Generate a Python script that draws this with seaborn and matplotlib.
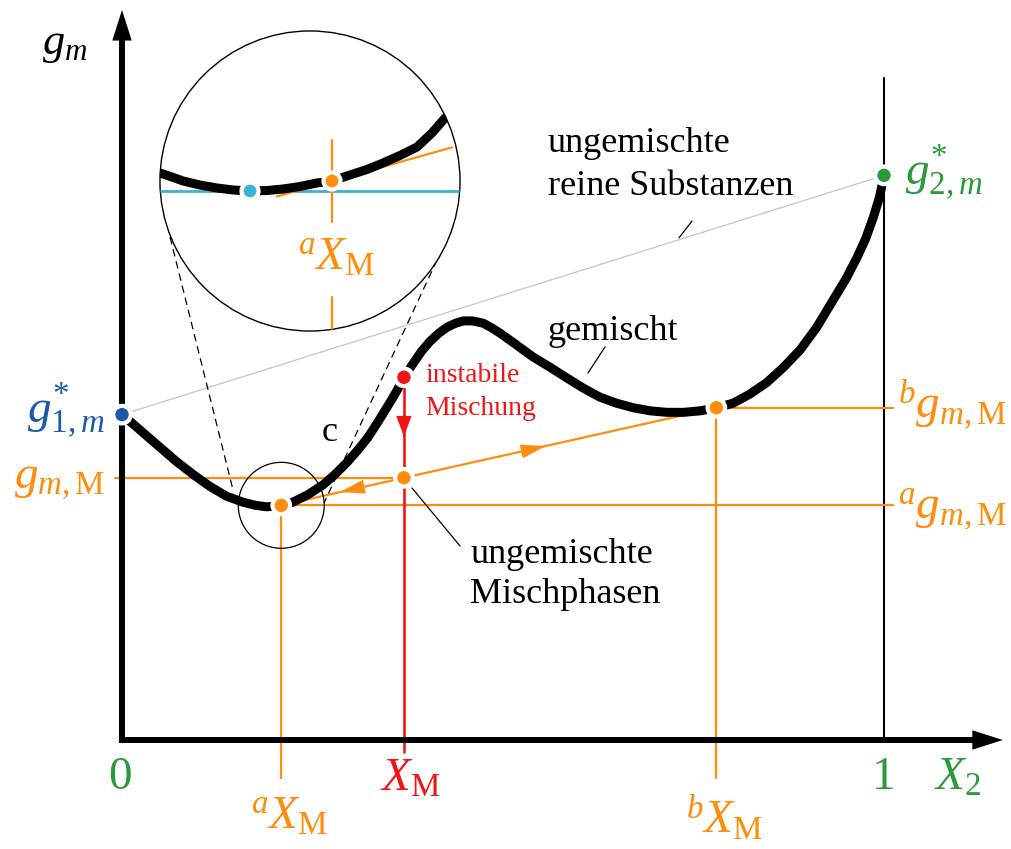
import matplotlib
matplotlib.use("Agg")
import matplotlib.pyplot as plt
from matplotlib.patches import Circle
import pandas as pd
import seaborn as sns

# Molar Gibbs energy g_m of the mixture versus mole fraction X_2
x2_curve = [0.000, 0.013, 0.028, 0.050, 0.072, 0.094, 0.115, 0.137, 0.159, 0.175,
            0.190, 0.209, 0.224, 0.244, 0.264, 0.280, 0.295, 0.309, 0.322, 0.335,
            0.348, 0.360, 0.370, 0.382, 0.393, 0.404, 0.416, 0.427, 0.438, 0.448,
            0.460, 0.474, 0.485, 0.496, 0.517, 0.539, 0.562, 0.584, 0.605, 0.627,
            0.649, 0.671, 0.693, 0.715, 0.737, 0.759, 0.780, 0.802, 0.824, 0.846,
            0.868, 0.890, 0.912, 0.933, 0.950, 0.965, 0.976, 0.986, 0.994, 1.000]
gm_curve = [0.427, 0.416, 0.403, 0.384, 0.365, 0.348, 0.333, 0.320, 0.312, 0.308,
            0.306, 0.308, 0.312, 0.322, 0.335, 0.349, 0.364, 0.380, 0.396, 0.416,
            0.437, 0.457, 0.476, 0.494, 0.510, 0.523, 0.534, 0.542, 0.547, 0.550,
            0.550, 0.547, 0.541, 0.534, 0.519, 0.503, 0.489, 0.475, 0.462, 0.450,
            0.442, 0.436, 0.432, 0.430, 0.430, 0.432, 0.436, 0.442, 0.454, 0.469,
            0.489, 0.512, 0.542, 0.577, 0.605, 0.634, 0.658, 0.686, 0.712, 0.741]

# pure substances
g1_star = 0.427
g2_star = 0.741

# coexisting phases a and b, overall composition X_M
x_a, g_a = 0.209, 0.308
x_b, g_b = 0.780, 0.436
x_M = 0.370
g_inst = 0.476
# unmixed phases: lever rule on the common tangent
g_M = g_a + (x_M - x_a) * (g_b - g_a) / (x_b - x_a)

# magnified detail near phase a (drawn inside the loupe)
detail_x = [0.0499, 0.0656, 0.0801, 0.1024, 0.1247, 0.1457, 0.1680, 0.1903, 0.2113,
            0.2336, 0.2559, 0.2756, 0.2992, 0.3215, 0.3425, 0.3648, 0.3871, 0.4068,
            0.4239]
detail_g = [0.7441, 0.7388, 0.7336, 0.7283, 0.7244, 0.7218, 0.7205, 0.7211, 0.7231,
            0.7264, 0.7310, 0.7336, 0.7415, 0.7487, 0.7572, 0.7671, 0.7782, 0.7966,
            0.8163]
detail_min_x, detail_min_g = 0.1680, 0.7205
detail_tan_x, detail_tan_g = 0.2756, 0.7336
detail_slope = 0.28

sns.set_theme(style="white")
plt.rcParams["font.family"] = ["Liberation Serif", "DejaVu Serif"]
plt.rcParams["text.color"] = "black"
plt.rcParams["mathtext.fontset"] = "custom"
plt.rcParams["mathtext.rm"] = "Liberation Serif"
plt.rcParams["mathtext.it"] = "Liberation Serif:italic"
plt.rcParams["mathtext.bf"] = "Liberation Serif:bold"

ORANGE = "#ff8c0a"
RED = "#f01414"
GREEN = "#2a9a3a"
BLUE = "#1b5aa8"
CYAN = "#3ab2d4"
GREY = "#c4c4c4"

fig = plt.figure(figsize=(10.11, 8.49), dpi=100)
ax = fig.add_axes([0, 0, 1, 1])
ax.set_xlim(-122 / 762, 889 / 762)
ax.set_ylim(-109 / 762, 740 / 762)
ax.set_axis_off()

# axes with arrow heads
y_top, x_right = 0.958, 1.156
ax.plot([0, 0], [-0.004, y_top - 0.03], color="black", lw=4.3,
        solid_capstyle="butt", zorder=4)
ax.plot([-0.004, x_right - 0.03], [0, 0], color="black", lw=4.3,
        solid_capstyle="butt", zorder=4)
head = dict(arrowstyle="-|>,head_length=1.1,head_width=0.35", mutation_scale=20,
            lw=0, color="black", shrinkA=0, shrinkB=0)
ax.annotate("", xy=(0, y_top), xytext=(0, y_top - 0.05), arrowprops=head, zorder=4)
ax.annotate("", xy=(x_right, 0), xytext=(x_right - 0.05, 0), arrowprops=head, zorder=4)
ax.plot([1, 1], [0, 0.869], color="black", lw=1.5, zorder=2)

# straight line between the unmixed pure substances
ax.plot([0, 1], [g1_star, g2_star], color=GREY, lw=0.9, zorder=1)

# orange construction lines
ax.plot([-0.009, x_M], [g_M, g_M], color=ORANGE, lw=1.6, zorder=2)
ax.plot([x_a, 1.012], [g_a, g_a], color=ORANGE, lw=1.6, zorder=2)
ax.plot([x_b, 1.012], [g_b, g_b], color=ORANGE, lw=1.6, zorder=2)
ax.plot([x_a, x_a], [g_a, -0.050], color=ORANGE, lw=1.6, zorder=2)
ax.plot([x_b, x_b], [g_b, -0.050], color=ORANGE, lw=1.6, zorder=2)
ax.plot([x_a, x_b], [g_a, g_b], color=ORANGE, lw=1.6, zorder=2)
ax.plot([x_M, x_M], [g_inst, -0.016], color=RED, lw=1.9, zorder=2)


def on_tie(x):
    return g_a + (x - x_a) * (g_b - g_a) / (x_b - x_a)


def arrow_head(tip, base, color, hl, hw):
    ax.annotate("", xy=tip, xytext=base,
                arrowprops=dict(arrowstyle=f"-|>,head_length={hl},head_width={hw}",
                                mutation_scale=10, lw=0, color=color,
                                shrinkA=0, shrinkB=0), zorder=3)


arrow_head((x_M, g_inst - 0.078), (x_M, g_inst - 0.05), RED, 1.5, 0.55)
arrow_head((0.556, on_tie(0.556)), (0.52, on_tie(0.52)), ORANGE, 1.8, 0.5)
arrow_head((0.286, on_tie(0.286)), (0.33, on_tie(0.33)), ORANGE, 1.8, 0.5)

# mixed system: g_m(X_2)
sns.lineplot(x=x2_curve, y=gm_curve, sort=False, estimator=None, color="black",
             lw=6.5, ax=ax, zorder=4, solid_joinstyle="round")

# loupe: small circle at phase a, large magnified circle, dashed connectors
ax.add_patch(Circle((x_a, g_a), 0.0564, fill=False, ec="black", lw=0.9, zorder=3))
ax.plot([0.0630, 0.1457], [0.6601, 0.3281], color="black", lw=0.9,
        ls=(0, (6, 4)), zorder=3)
ax.plot([0.4134, 0.2651], [0.6299, 0.3110], color="black", lw=0.9,
        ls=(0, (6, 4)), zorder=3)
loupe = Circle((0.2467, 0.7336), 0.1969, fc="white", ec="black", lw=1.0, zorder=7)
ax.add_patch(loupe)

inset_items = []
inset_items += ax.plot([-0.01, 0.50], [detail_min_g, detail_min_g], color=CYAN,
                       lw=2.0, zorder=8)
tx = [0.2034, 0.4331]
inset_items += ax.plot(tx, [detail_tan_g + detail_slope * (v - detail_tan_x) for v in tx],
                       color=ORANGE, lw=1.6, zorder=8)
inset_items += ax.plot([detail_tan_x, detail_tan_x], [0.7874, 0.6798], color=ORANGE,
                       lw=1.6, zorder=8)
inset_items += ax.plot([detail_tan_x, detail_tan_x], [0.5814, 0.52], color=ORANGE,
                       lw=1.6, zorder=8)
sns.lineplot(x=detail_x, y=detail_g, sort=False, estimator=None, color="black",
             lw=6.5, ax=ax, zorder=9, solid_joinstyle="round")
inset_items.append(ax.lines[-1])
for item in inset_items:
    item.set_clip_path(loupe)
sns.scatterplot(x=[detail_min_x, detail_tan_x], y=[detail_min_g, detail_tan_g],
                hue=["min", "tan"], palette={"min": CYAN, "tan": ORANGE},
                s=150, edgecolor="white", linewidth=3, legend=False, ax=ax, zorder=10)
ax.text(0.282, 0.6325, r"${}^{a}X_{\mathrm{M}}$", color=ORANGE, fontsize=34,
        ha="center", va="center", zorder=10)

# state points
pts = pd.DataFrame({
    "x": [0, 1, x_a, x_b, x_M, x_M],
    "g": [g1_star, g2_star, g_a, g_b, g_inst, g_M],
    "kind": ["g1", "g2", "a", "b", "inst", "M"],
})
palette = {"g1": BLUE, "g2": GREEN, "a": ORANGE, "b": ORANGE, "inst": RED, "M": ORANGE}
sns.scatterplot(data=pts, x="x", y="g", hue="kind", palette=palette, s=160,
                edgecolor="white", linewidth=3, legend=False, ax=ax, zorder=6,
                clip_on=False)

# axis and point labels
big = 34
ax.text(-0.075, 0.912, r"$g_m$", fontsize=32, ha="center", va="center")
ax.text(-0.0223, 0.432, r"$g^{*}_{1,m}$", color=BLUE, fontsize=big, ha="right", va="center")
ax.text(1.0276, 0.745, r"$g^{*}_{2,m}$", color=GREEN, fontsize=big, ha="left", va="center")
ax.text(-0.0223, 0.341, r"$g_{m,\mathrm{M}}$", color=ORANGE, fontsize=big,
        ha="right", va="center")
ax.text(1.018, 0.440, r"${}^{b}g_{m,\mathrm{M}}$", color=ORANGE, fontsize=big,
        ha="left", va="center")
ax.text(1.018, 0.302, r"${}^{a}g_{m,\mathrm{M}}$", color=ORANGE, fontsize=big,
        ha="left", va="center")
ax.text(-0.0026, -0.050, "0", color=GREEN, fontsize=big, ha="center", va="center")
ax.text(1.0, -0.050, "1", color=GREEN, fontsize=big, ha="center", va="center")
ax.text(1.097, -0.050, r"$X_2$", color=GREEN, fontsize=big, ha="center", va="center")
ax.text(0.378, -0.052, r"$X_{\mathrm{M}}$", color=RED, fontsize=big, ha="center", va="center")
ax.text(0.2205, -0.102, r"${}^{a}X_{\mathrm{M}}$", color=ORANGE, fontsize=big,
        ha="center", va="center")
ax.text(0.791, -0.102, r"${}^{b}X_{\mathrm{M}}$", color=ORANGE, fontsize=big,
        ha="center", va="center")

# annotations
txt = 26
ax.text(0.559, 0.7717, "ungemischte", fontsize=txt, ha="left", va="baseline")
ax.text(0.559, 0.7152, "reine Substanzen", fontsize=txt, ha="left", va="baseline")
ax.plot([0.748, 0.731], [0.681, 0.659], color="black", lw=0.9, zorder=3)
ax.text(0.559, 0.525, "gemischt", fontsize=txt, ha="left", va="baseline")
ax.plot([0.634, 0.6115], [0.516, 0.4816], color="black", lw=0.9, zorder=3)
ax.text(0.3976, 0.4698, "instabile", color=RED, fontsize=20, ha="left", va="baseline")
ax.text(0.3976, 0.4265, "Mischung", color=RED, fontsize=20, ha="left", va="baseline")
ax.text(0.273, 0.404, "c", fontsize=txt, ha="center", va="center")
ax.text(0.4567, 0.2323, "ungemischte", fontsize=txt, ha="left", va="baseline")
ax.text(0.4567, 0.1798, "Mischphasen", fontsize=txt, ha="left", va="baseline")
ax.plot([0.3806, 0.4436], [0.3307, 0.2546], color="black", lw=0.9, zorder=3)

fig.savefig("out.png", dpi=100)
